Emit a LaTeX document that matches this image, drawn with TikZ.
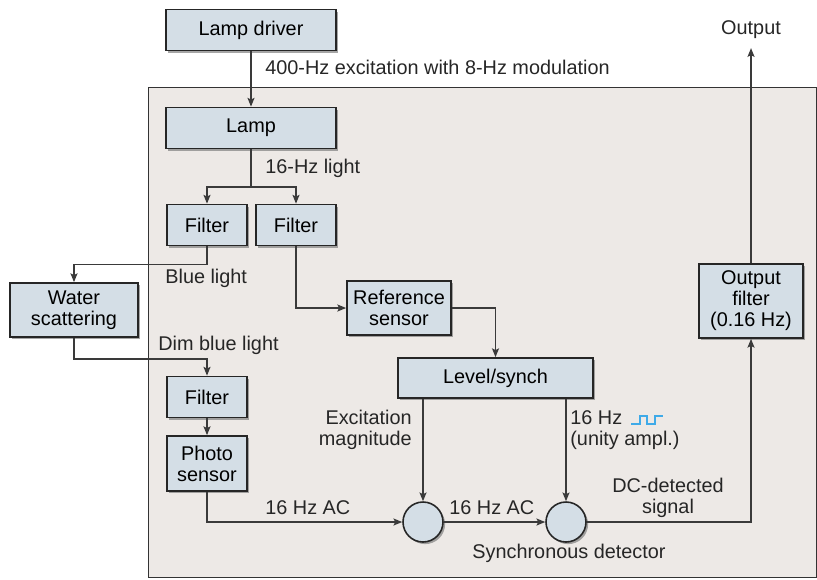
\documentclass[tikz,border=0pt]{standalone}
\usepackage{fontspec}
\setmainfont{Liberation Sans}
\usetikzlibrary{arrows.meta,shadows}
\definecolor{panel}{HTML}{EDE9E6}
\definecolor{boxfill}{HTML}{D4DEE6}
\definecolor{wire}{HTML}{3A3A3A}
\definecolor{wave}{HTML}{3FAAE8}

\begin{document}
\begin{tikzpicture}[x=0.02cm, y=-0.02cm, font=\fontsize{11.3}{11.9}\selectfont,
  b/.style={rectangle, draw=black!85, line width=1pt, fill=boxfill, align=center, inner sep=0pt,
    minimum height=0.82cm, drop shadow={shadow xshift=1.3pt, shadow yshift=-1.3pt, opacity=0.7}},
  b2/.style={b, minimum height=1.08cm},
  c/.style={circle, draw=black!85, line width=0.9pt, fill=boxfill, inner sep=0pt, minimum size=0.8cm,
    drop shadow={shadow xshift=1.2pt, shadow yshift=-1.2pt, opacity=0.7}},
  t/.style={inner sep=0pt, anchor=west, text=black!85},
  w/.style={draw=wire, line width=0.8pt},
  >={Stealth[length=5pt, width=4pt, inset=1pt]}]
\useasboundingbox (0,0) rectangle (817,579);
\fill[panel, draw=black!80] (148,87) rectangle (816,577);

\node[b, minimum width=3.4cm] (drv) at (251,30) {Lamp driver};
\node[b, minimum width=3.4cm] (lamp) at (251,128) {Lamp};
\node[b, minimum width=1.6cm] (f1) at (207,225) {Filter};
\node[b, minimum width=1.6cm] (f2) at (296,225) {Filter};
\node[b2, minimum width=2.56cm] (water) at (74,310) {Water\\scattering};
\node[b2, minimum width=2.08cm] (ref) at (399,308) {Reference\\sensor};
\node[b, minimum width=3.9cm, minimum height=0.8cm] (lvl) at (495.5,378) {Level/synch};
\node[b, minimum width=1.6cm] (f3) at (207,397) {Filter};
\node[b, minimum width=1.6cm, minimum height=1.1cm] (photo) at (207,463.5) {Photo\\sensor};
\node[b, minimum width=2.08cm, minimum height=1.48cm] (outf) at (751,301) {Output\\filter\\(0.16 Hz)};
\node[c] (c1) at (423,522) {};
\node[c] (c2) at (566,522) {};
\node[inner sep=0pt, text=black!85] (out) at (751,30) {Output};

\node[t] (l1) at (265,67) {400-Hz excitation with 8-Hz modulation};
\node[t] (l2) at (265,168) {16-Hz light};
\node[t] (l3) at (165,278) {Blue light};
\node[t] (l4) at (158,345) {Dim blue light};
\node[t] (l5) at (265,508) {16 Hz AC};
\node[t] (l6) at (449,508) {16 Hz AC};
\node[t, anchor=east, align=right] (l7) at (412,430) {Excitation\\magnitude};
\node[t, align=left] (l8) at (570,430) {16 Hz\\(unity ampl.)};
\node[t, anchor=center, align=center] (l9) at (668,498) {DC-detected\\signal};
\node[t, anchor=center] (l10) at (569,553) {Synchronous detector};
\draw[wave, line width=0.8pt] (631,424) -- (640,424) -- (640,416) -- (647,416) -- (647,424)
  -- (655,424) -- (655,416) -- (663,416);

\coordinate (sp) at (251,187);
\draw[w,->] (drv) -- (lamp);
\draw[w] (lamp) -- (sp);
\draw[w,->] (sp) -| (f1);
\draw[w,->] (sp) -| (f2);
\draw[w,->] (f1.south) -- ++(0,18) -| (water);
\draw[w,->] (water.south) -- ++(0,21) -| (f3);
\draw[w,->] (f3) -- (photo);
\draw[w,->] (photo.south) |- (c1);
\draw[w,->] (c1) -- (c2);
\draw[w,->] (f2.south) |- (ref);
\draw[w,->] (ref.east) -| (lvl);
\draw[w,->] (c1 |- lvl.south) -- (c1);
\draw[w,->] (c2 |- lvl.south) -- (c2);
\draw[w,->] (c2) -| (outf);
\draw[w,->] (outf) -- ([yshift=-5pt]out.south);
\end{tikzpicture}
\end{document}
